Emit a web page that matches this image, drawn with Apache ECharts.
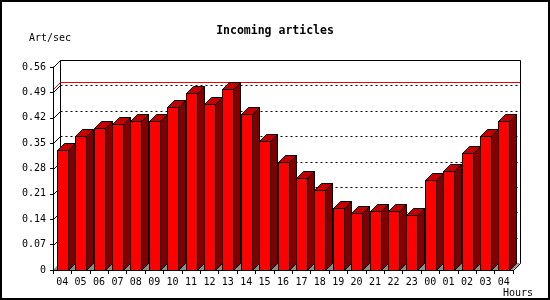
<!DOCTYPE html>
<html><head><meta charset="utf-8">
<script src="https://cdn.jsdelivr.net/npm/echarts@6/dist/echarts.min.js"></script>
<style>html,body{margin:0;padding:0;background:#fff}#c{width:550px;height:300px}</style>
</head><body><div id="c"></div>
<script>
const hours = ['04','05','06','07','08','09','10','11','12','13','14','15','16','17','18','19','20','21','22','23','00','01','02','03','04'];
const artPerSec = [0.332,0.371,0.393,0.404,0.410,0.410,0.451,0.489,0.459,0.500,0.429,0.357,0.299,0.255,0.222,0.170,0.156,0.162,0.162,0.153,0.247,0.272,0.324,0.371,0.410];
const yTickLabels = ['0','0.07','0.14','0.21','0.28','0.35','0.42','0.49','0.56'];
const yStep = 0.07;
const yMax = 0.56;
const maxValue = Math.max.apply(null, artPerSec);

const DX = 7, DY = 7;
const FONT = 'DejaVu Sans Mono';
const c = v => Math.round(v) + 0.5;

function renderBack(params, api) {
  const cs = params.coordSys;
  const x0 = cs.x, x1 = cs.x + cs.width;
  const yb = api.coord([0, 0])[1];
  const yt = api.coord([0, yMax])[1];
  const ch = [];
  const line = (a, b, col, dash) => ch.push({type:'line', shape:{x1:c(a[0]),y1:c(a[1]),x2:c(b[0]),y2:c(b[1])},
    style:{stroke:col||'#000', lineWidth:1, lineDash:dash||null}});
  // floor
  ch.push({type:'polygon', shape:{points:[[x0,yb],[x1,yb],[x1+DX,yb-DY],[x0+DX,yb-DY]]}, style:{fill:'#8c8c8c', stroke:null}});
  // back plane frame
  line([x0+DX, yt-DY], [x1+DX, yt-DY]);
  line([x0+DX, yt-DY], [x0+DX, yb-DY]);
  line([x1+DX, yt-DY], [x1+DX, yb-DY]);
  line([x0, yt], [x0+DX, yt-DY]);
  line([x1, yb], [x1+DX, yb-DY]);
  // grid lines
  for (let k = 1; k < yTickLabels.length - 1; k++) {
    const y = api.coord([0, parseFloat(yTickLabels[k])])[1];
    line([x0, y], [x0+DX, y-DY]);
    line([x0+DX, y-DY], [x1+DX, y-DY], '#000', [2, 3]);
  }
  // max line
  const ym = api.coord([0, maxValue])[1];
  line([x0, ym], [x0+DX, ym-DY], '#ff0000');
  line([x0+DX, ym-DY], [x1+DX, ym-DY], '#ff0000');
  return {type:'group', children: ch};
}

function renderBar(params, api) {
  const i = api.value(0), v = api.value(1);
  const top = api.coord([i, v]);
  const base = api.coord([i, 0]);
  const w = Math.round(api.size([1, 0])[0] * 0.6);
  const xl = c(top[0] - w / 2), xr = xl + w;
  const yt = c(top[1]), yb = c(base[1]);
  const s = {stroke:'#000', lineWidth:1};
  return {type:'group', children:[
    {type:'polygon', shape:{points:[[xr,yb],[xr+DX,yb-DY],[xr+DX,yt-DY],[xr,yt]]}, style:Object.assign({fill:'#800000'}, s)},
    {type:'polygon', shape:{points:[[xl,yt],[xl+DX,yt-DY],[xr+DX,yt-DY],[xr,yt]]}, style:Object.assign({fill:'#c40000'}, s)},
    {type:'rect', shape:{x:xl, y:yt, width:w, height:yb-yt}, style:Object.assign({fill:'#ff0000'}, s)}
  ]};
}

const chart = echarts.init(document.getElementById('c'), null, {renderer:'canvas'});
chart.setOption({
  animation: false,
  backgroundColor: '#fff',
  title: {text:'Incoming articles', left:'center', top:20,
    textStyle:{fontFamily:FONT, fontWeight:'bold', fontSize:11.5, color:'#000'}},
  grid: {left:53, top:67, width:460, height:203},
  xAxis: {type:'category', data:hours, z:10,
    axisLine:{lineStyle:{color:'#000', width:1}},
    axisTick:{show:true, length:4, interval:0, lineStyle:{color:'#000'}},
    axisLabel:{interval:0, margin:7, color:'#000', fontFamily:FONT, fontSize:10},
    splitLine:{show:false}},
  yAxis: {type:'value', min:0, max:yMax, interval:yStep, z:10,
    axisLine:{show:true, lineStyle:{color:'#000', width:1}},
    axisTick:{show:true, length:3, lineStyle:{color:'#000'}},
    axisLabel:{margin:7, color:'#000', fontFamily:FONT, fontSize:10,
      formatter: v => yTickLabels[Math.round(v / yStep)]},
    splitLine:{show:false}},
  graphic: [
    {type:'rect', silent:true, z:100, shape:{x:1, y:1, width:548, height:298}, style:{fill:null, stroke:'#000', lineWidth:2}},
    {type:'text', left:29, top:33, style:{text:'Art/sec', fontFamily:FONT, fontSize:10, fill:'#000'}},
    {type:'text', left:503, top:288, style:{text:'Hours', fontFamily:FONT, fontSize:10, fill:'#000'}}
  ],
  series: [
    {type:'custom', z:1, silent:true, renderItem:renderBack, data:[[0, 0]], encode:{x:0, y:1}, clip:false},
    {type:'custom', z:2, silent:true, renderItem:renderBar,
      data: artPerSec.map((v, i) => [i, v]), encode:{x:0, y:1}, clip:false}
  ]
});
</script>
</body></html>
